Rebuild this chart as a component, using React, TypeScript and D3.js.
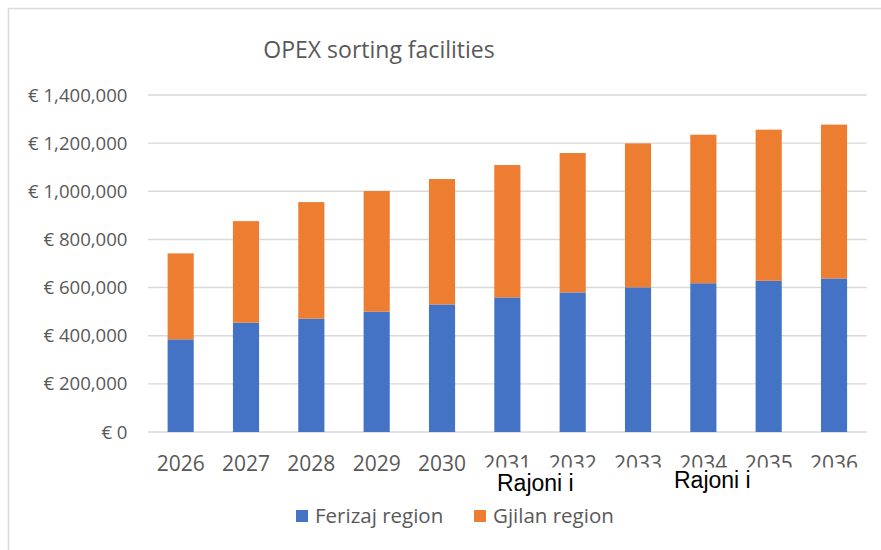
import React, { useEffect, useRef } from 'react';
import * as d3 from 'd3';

const years = ['2026', '2027', '2028', '2029', '2030', '2031', '2032', '2033', '2034', '2035', '2036'];
const ferizaj = [385000, 454000, 471000, 500000, 530000, 559000, 580000, 601000, 618000, 628000, 638000];
const gjilan = [357000, 422000, 484000, 501000, 521000, 550000, 579000, 598000, 617000, 628000, 639000];
const seriesNames = ['Ferizaj region', 'Gjilan region'];
const seriesColors = ['#4472C4', '#ED7D31'];
const yTicks = [0, 200000, 400000, 600000, 800000, 1000000, 1200000, 1400000];
const stray = [
  { text: 'Rajoni i', x: 497, y: 490.5 },
  { text: 'Rajoni i', x: 674, y: 487.5 },
];

const FONT = '"Open Sans", sans-serif';
const GREY = '#595959';

function App() {
  const ref = useRef<SVGSVGElement | null>(null);

  useEffect(() => {
    const svg = d3.select(ref.current);
    svg.selectAll('*').remove();

    const W = 881, H = 550;
    const left = 148, right = 866.7, top = 95, bottom = 432;

    // chart frame
    svg.append('rect')
      .attr('x', 8.5).attr('y', 8.5)
      .attr('width', W + 20).attr('height', H + 20)
      .attr('fill', '#fff').attr('stroke', '#d9d9d9').attr('stroke-width', 1.5);

    svg.append('text')
      .attr('x', 379).attr('y', 58)
      .attr('text-anchor', 'middle')
      .attr('font-family', FONT).attr('font-size', 23).attr('fill', GREY)
      .text('OPEX sorting facilities');

    const x = d3.scaleBand()
      .domain(years)
      .range([left, right])
      .paddingInner(0.6)
      .paddingOuter(0.3);

    const y = d3.scaleLinear().domain([0, 1400000]).range([bottom, top]);

    // gridlines
    svg.append('g')
      .selectAll('line')
      .data(yTicks)
      .enter()
      .append('line')
      .attr('x1', left).attr('x2', right)
      .attr('y1', d => y(d)).attr('y2', d => y(d))
      .attr('stroke', '#d9d9d9').attr('stroke-width', 1.4);

    const fmt = d3.format(',');
    svg.append('g')
      .selectAll('text')
      .data(yTicks)
      .enter()
      .append('text')
      .attr('x', 127.5)
      .attr('y', d => y(d) + 6.5)
      .attr('text-anchor', 'end')
      .attr('font-family', FONT).attr('font-size', 18.6).attr('fill', GREY)
      .text(d => '€ ' + fmt(d));

    const rows = years.map((yr, i) => ({ year: yr, f: ferizaj[i], g: gjilan[i] }));
    const stacked = d3.stack<any>().keys(['f', 'g'])(rows);

    svg.append('g')
      .selectAll('g')
      .data(stacked)
      .enter()
      .append('g')
      .attr('fill', (d, i) => seriesColors[i])
      .selectAll('rect')
      .data(d => d)
      .enter()
      .append('rect')
      .attr('x', (d: any) => x(d.data.year) as number)
      .attr('y', d => y(d[1]))
      .attr('width', x.bandwidth())
      .attr('height', d => y(d[0]) - y(d[1]));

    // x labels
    svg.append('g')
      .selectAll('text')
      .data(years)
      .enter()
      .append('text')
      .attr('x', d => (x(d) as number) + x.bandwidth() / 2)
      .attr('y', 470.5)
      .attr('text-anchor', 'middle')
      .attr('font-family', FONT).attr('font-size', 21).attr('fill', GREY)
      .text(d => d);

    // white patch over the lower part of the later labels
    svg.append('rect')
      .attr('x', 483).attr('y', 467.5)
      .attr('width', 385).attr('height', 30)
      .attr('fill', '#fff');

    svg.append('g')
      .selectAll('text')
      .data(stray)
      .enter()
      .append('text')
      .attr('x', d => d.x).attr('y', d => d.y)
      .attr('font-family', '"Liberation Sans", Arial, sans-serif')
      .attr('font-size', 23).attr('fill', '#000')
      .text(d => d.text);

    // legend
    const legX = [296, 474];
    const leg = svg.append('g')
      .selectAll('g')
      .data(seriesNames)
      .enter()
      .append('g')
      .attr('transform', (d, i) => `translate(${legX[i]},510)`);
    leg.append('rect')
      .attr('width', 12).attr('height', 12)
      .attr('fill', (d, i) => seriesColors[i]);
    leg.append('text')
      .attr('x', 19).attr('y', 13)
      .attr('font-family', FONT).attr('font-size', 20.5).attr('fill', GREY)
      .text(d => d);
  }, []);

  return (
    <svg
      ref={ref}
      width={881}
      height={550}
      style={{ position: 'absolute', left: 0, top: 0, background: '#fff' }}
    />
  );
}

export default App;
